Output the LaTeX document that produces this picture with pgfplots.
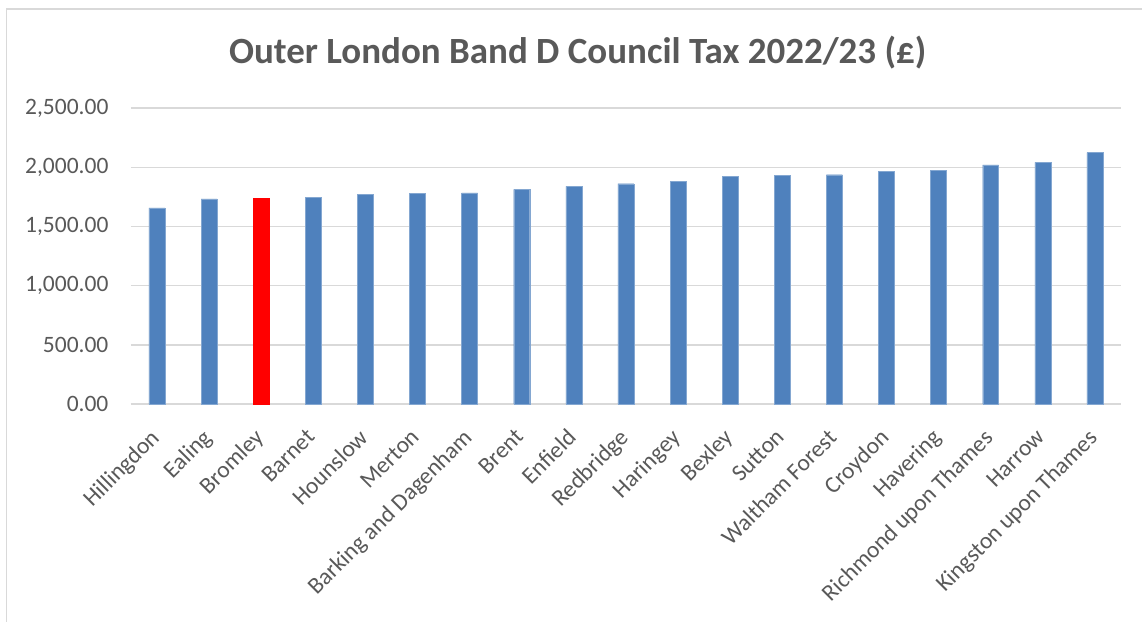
\documentclass[border=0pt]{standalone}
\usepackage{pgfplots}
\pgfplotsset{compat=1.18}
\usepackage{fontspec}
\setmainfont{Carlito}
\definecolor{barblue}{HTML}{4F81BD}
\definecolor{txtgray}{HTML}{595959}
\definecolor{gridgray}{HTML}{D9D9D9}
\begin{document}
\begin{tikzpicture}
\path[fill=white] (0pt,0pt) rectangle (1143pt,622pt);
\draw[gridgray,line width=1.5pt] (6.5pt,0pt) -- (6.5pt,613pt) -- (1143pt,613pt);
\node[text=txtgray,font=\fontsize{37}{42}\selectfont\bfseries] at (578pt,569pt) {Outer London Band D Council Tax 2022/23 (£)};
\begin{axis}[
  at={(131pt,217.7pt)}, anchor=south west,
  scale only axis, width=990.7pt, height=296pt,
  xmin=-0.5, xmax=18.5, ymin=0, ymax=2500,
  ytick={0,500,1000,1500,2000,2500},
  xtick={0,...,18},
  xticklabels={Hillingdon,Ealing,Bromley,Barnet,Hounslow,Merton,Barking and Dagenham,Brent,Enfield,Redbridge,Haringey,Bexley,Sutton,Waltham Forest,Croydon,Havering,Richmond upon Thames,Harrow,Kingston upon Thames},
  axis line style={draw=none},
  ymajorgrids, grid style={gridgray,line width=1.5pt},
  major tick length=0pt,
  tick label style={text=txtgray},
  yticklabel style={font=\fontsize{23.5}{28}\selectfont, xshift=-19pt},
  xticklabel style={font=\fontsize{23.5}{28}\selectfont, anchor=north east, inner sep=1pt, xshift=-8pt, yshift=-22pt, rotate=45},
  /pgf/number format/.cd, fixed, fixed zerofill, precision=2, 1000 sep={,}, assume math mode=true,
  /pgfplots/.cd,
  clip=false,
]
\draw[gridgray,line width=1.5pt] (axis cs:-0.5,0) -- (axis cs:18.5,0);
\addplot[ybar, bar shift=0pt, bar width=16pt, fill=barblue, draw=barblue!70!white] coordinates {
(0,1658) (1,1733) (3,1744) (4,1773) (5,1779) (6,1785) (7,1815) (8,1840) (9,1862) (10,1880) (11,1922) (12,1932) (13,1938) (14,1967) (15,1972) (16,2021) (17,2042) (18,2125)};
\addplot[ybar, bar shift=0pt, bar width=16pt, fill=red, draw=red] coordinates {(2,1737)};
\end{axis}
\end{tikzpicture}
\end{document}
